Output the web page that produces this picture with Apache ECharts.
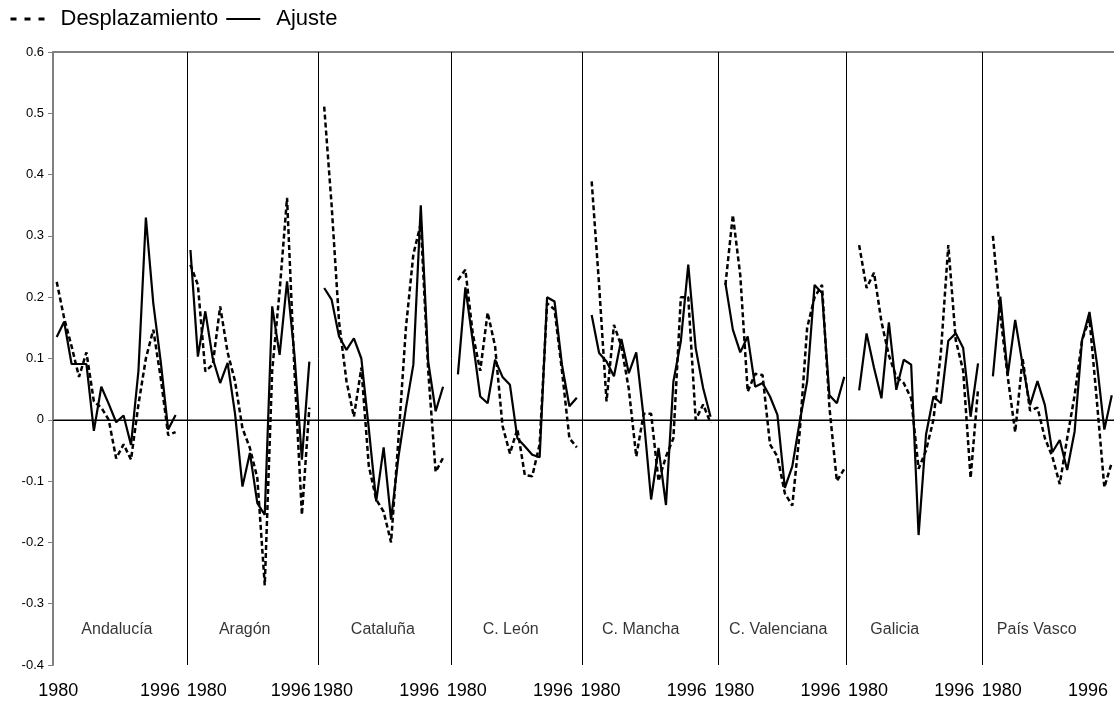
<!DOCTYPE html>
<html>
<head>
<meta charset="utf-8">
<script src="https://cdn.jsdelivr.net/npm/echarts@6/dist/echarts.min.js"></script>
<style>
    html, body {margin: 0; padding: 0; background: #fff;}
    #chart {width: 1114px; height: 704px;}
</style>
</head>
<body>
<div id="chart"></div>
<script>
// regiones, en el orden del gráfico
var regions = ['Andalucía', 'Aragón', 'Cataluña', 'C. León', 'C. Mancha', 'C. Valenciana', 'Galicia', 'País Vasco'];
var firstYear = '1980';
var lastYear = '1996';

// Desplazamiento (línea discontinua), 1980-1996
var despAndalucia = [0.225, 0.166, 0.12, 0.07, 0.11, 0.03, 0.02, 0.0, -0.063, -0.04, -0.065, 0.025, 0.1, 0.147, 0.068, -0.025, -0.02];
var despAragon = [0.253, 0.22, 0.079, 0.09, 0.185, 0.11, 0.063, -0.014, -0.046, -0.095, -0.27, 0.08, 0.21, 0.362, 0.08, -0.155, 0.02];
var despCataluna = [0.511, 0.35, 0.16, 0.063, 0.005, 0.085, -0.075, -0.13, -0.15, -0.2, -0.03, 0.15, 0.27, 0.32, 0.08, -0.085, -0.062];
var despLeon = [0.228, 0.245, 0.14, 0.08, 0.175, 0.12, -0.01, -0.055, -0.015, -0.09, -0.092, -0.04, 0.19, 0.18, 0.08, -0.03, -0.045];
var despMancha = [0.389, 0.22, 0.03, 0.155, 0.12, 0.05, -0.06, 0.01, 0.01, -0.1, -0.06, -0.03, 0.2, 0.2, 0.0, 0.025, -0.005];
var despValenciana = [0.22, 0.334, 0.236, 0.046, 0.075, 0.073, -0.04, -0.06, -0.12, -0.14, -0.02, 0.15, 0.2, 0.22, 0.02, -0.1, -0.08];
var despGalicia = [0.285, 0.215, 0.24, 0.16, 0.105, 0.07, 0.06, 0.035, -0.08, -0.05, 0.0, 0.11, 0.285, 0.13, 0.08, -0.095, 0.05];
var despPaisVasco = [0.3, 0.17, 0.07, -0.02, 0.1, 0.015, 0.02, -0.03, -0.06, -0.105, -0.03, 0.04, 0.13, 0.165, 0.03, -0.11, -0.07];

// Ajuste (línea continua), 1980-1996
var ajusAndalucia = [0.135, 0.16, 0.091, 0.091, 0.091, -0.018, 0.054, 0.026, -0.004, 0.007, -0.041, 0.08, 0.33, 0.19, 0.095, -0.016, 0.008];
var ajusAragon = [0.277, 0.103, 0.177, 0.1, 0.06, 0.093, 0.01, -0.109, -0.054, -0.136, -0.155, 0.185, 0.106, 0.226, 0.106, -0.065, 0.095];
var ajusCataluna = [0.215, 0.196, 0.136, 0.114, 0.133, 0.1, -0.014, -0.133, -0.045, -0.163, -0.06, 0.019, 0.09, 0.35, 0.095, 0.014, 0.054];
var ajusLeon = [0.074, 0.216, 0.128, 0.038, 0.027, 0.098, 0.07, 0.057, -0.03, -0.043, -0.057, -0.061, 0.2, 0.193, 0.09, 0.022, 0.036];
var ajusMancha = [0.171, 0.109, 0.095, 0.071, 0.132, 0.076, 0.11, 0.003, -0.13, -0.046, -0.139, 0.0625, 0.128, 0.253, 0.117, 0.052, 0.005];
var ajusValenciana = [0.223, 0.147, 0.11, 0.136, 0.054, 0.06, 0.038, 0.008, -0.111, -0.076, -0.003, 0.0625, 0.22, 0.207, 0.04, 0.027, 0.07];
var ajusGalicia = [0.048, 0.141, 0.085, 0.035, 0.159, 0.049, 0.098, 0.09, -0.188, -0.024, 0.038, 0.027, 0.129, 0.141, 0.117, 0.005, 0.092];
var ajusPaisVasco = [0.071, 0.201, 0.073, 0.163, 0.09, 0.024, 0.063, 0.024, -0.053, -0.033, -0.082, -0.019, 0.13, 0.176, 0.092, -0.016, 0.04];

var desp = [despAndalucia, despAragon, despCataluna, despLeon, despMancha, despValenciana, despGalicia, despPaisVasco];
var ajus = [ajusAndalucia, ajusAragon, ajusCataluna, ajusLeon, ajusMancha, ajusValenciana, ajusGalicia, ajusPaisVasco];

// layout: 17 años + 1 hueco por región
var BLOCK = 18;
var dividers = [17.58, 35.21, 53.16, 70.7, 89.04, 106.23, 124.57];
var regionLabelX = [8.1, 25.3, 43.9, 61.1, 78.6, 97.1, 112.8, 131.9];
var regionLabelY = -0.343;

// posiciones de las etiquetas de años en el eje x
var yearLabels = {};
var yearLabelPos = [];
regions.forEach(function (r, p) {
    var a = p === 0 ? 0.2 : (p === 1 ? 2.2 : 1.2);
    var b = p === 0 ? 13.9 : (p === 1 ? 13.5 : 12.8);
    yearLabels[(p * BLOCK + a).toFixed(2)] = firstYear;
    yearLabels[(p * BLOCK + b).toFixed(2)] = lastYear;
    yearLabelPos.push(p * BLOCK + a, p * BLOCK + b);
});

function toPoints(values, p) {
    return values.map(function (v, j) {
        return [p * BLOCK + j, v];
    });
}

var series = [];
regions.forEach(function (r, p) {
    series.push({
        name: 'Desplazamiento',
        type: 'line',
        data: toPoints(desp[p], p),
        symbol: 'none',
        itemStyle: {color: '#000'},
        lineStyle: {color: '#000', width: 2.5, type: [5, 3]},
        z: 3
    });
    series.push({
        name: 'Ajuste',
        type: 'line',
        data: toPoints(ajus[p], p),
        symbol: 'none',
        itemStyle: {color: '#000'},
        lineStyle: {color: '#000', width: 2.2, type: 'solid'},
        z: 4
    });
});

// separadores de regiones y línea de cero
series[0].markLine = {
    silent: true,
    symbol: ['none', 'none'],
    label: {show: false},
    lineStyle: {color: '#000', width: 1, type: 'solid'},
    emphasis: {disabled: true},
    data: dividers.map(function (v) {
        return {xAxis: v};
    }).concat([{yAxis: 0}])
};

// nombres de las regiones
series.push({
    name: 'regiones',
    type: 'scatter',
    silent: true,
    symbolSize: 1,
    itemStyle: {color: 'rgba(0,0,0,0)'},
    label: {show: true, position: 'inside', formatter: '{b}', fontSize: 16, color: '#000'},
    data: regions.map(function (name, i) {
        return {name: name, value: [regionLabelX[i], regionLabelY]};
    })
});

var myChart = echarts.init(document.getElementById('chart'));
myChart.setOption({
    animation: false,
    backgroundColor: '#fff',
    textStyle: {fontFamily: 'Liberation Sans, Arial, sans-serif', color: '#000'},
    legend: {
        data: [
            {name: 'Desplazamiento', lineStyle: {type: [6, 8], width: 3}},
            {name: 'Ajuste', lineStyle: {type: 'solid', width: 2}}
        ],
        left: 4,
        top: 3,
        itemWidth: 34,
        itemHeight: 14,
        itemGap: 7,
        selectedMode: false,
        itemStyle: {opacity: 0, borderWidth: 0},
        textStyle: {fontSize: 22, color: '#000', padding: [0, 0, 0, 11]}
    },
    grid: {left: 53, right: 0, top: 52, bottom: 39},
    xAxis: [{
        type: 'value',
        min: -0.5,
        max: 142.3,
        position: 'bottom',
        splitLine: {show: false},
        axisTick: {show: false},
        axisLine: {show: true, lineStyle: {color: '#808080', width: 2}},
        axisLabel: {
            customValues: yearLabelPos,
            fontSize: 18,
            color: '#000',
            margin: 17,
            formatter: function (val) {
                return yearLabels[val.toFixed(2)] || '';
            }
        }
    }, {
        type: 'value',
        min: -0.5,
        max: 142.3,
        position: 'top',
        splitLine: {show: false},
        axisTick: {show: false},
        axisLabel: {show: false},
        axisLine: {show: true, lineStyle: {color: '#808080', width: 2}}
    }],
    yAxis: {
        type: 'value',
        min: -0.4,
        max: 0.6,
        interval: 0.1,
        splitLine: {show: false},
        axisLine: {show: true, onZero: false, lineStyle: {color: '#808080', width: 2}},
        axisTick: {show: true, length: 5, lineStyle: {color: '#808080', width: 1}},
        axisLabel: {
            fontSize: 13,
            color: '#000',
            margin: 9,
            formatter: function (v) {
                return Math.abs(v) < 1e-9 ? '0' : v.toFixed(1);
            }
        }
    },
    series: series
});
</script>
</body>
</html>
